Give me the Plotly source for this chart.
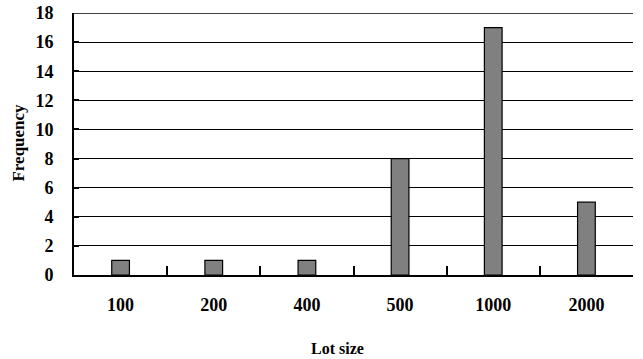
import plotly.graph_objects as go

categories = ["100", "200", "400", "500", "1000", "2000"]
frequency = [1, 1, 1, 8, 17, 5]
y_ticks = [0, 2, 4, 6, 8, 10, 12, 14, 16, 18]

font_family = "Liberation Serif"

fig = go.Figure()
fig.add_trace(go.Bar(
    x=categories, y=frequency,
    marker=dict(color="#808080", line=dict(color="black", width=1.2)),
    width=0.19,
))

fig.update_layout(
    width=643, height=359,
    margin=dict(l=74, r=10, t=13, b=84),
    paper_bgcolor="white", plot_bgcolor="white",
    showlegend=False,
    font=dict(family=font_family, size=18, color="black"),
    annotations=[
        dict(text="<b>Lot size</b>", xref="paper", yref="paper", x=0.472, y=-0.279,
             showarrow=False, xanchor="center", yanchor="middle",
             font=dict(family=font_family, size=16)),
        dict(text="<b>Frequency</b>", xref="paper", yref="paper", x=-0.100, y=0.506,
             showarrow=False, xanchor="center", yanchor="middle", textangle=-90,
             font=dict(family=font_family, size=17)),
    ],
    shapes=[
        # top gridline (plotly drops the gridline that sits on the plot edge)
        dict(type="line", xref="paper", yref="y", x0=0, x1=1,
             y0=y_ticks[-1], y1=y_ticks[-1], line=dict(color="black", width=1.3),
             layer="below"),
    ],
)
fig.update_xaxes(
    type="category", automargin=False,
    showline=True, linecolor="black", linewidth=2,
    ticks="inside", ticklen=9, tickwidth=1.5, tickcolor="black",
    tickson="boundaries",
    showgrid=False,
    ticklabelstandoff=12,
    tickfont=dict(family=font_family, size=18, color="black", weight="bold"),
    range=[-0.5, 5.5],
)
fig.update_yaxes(
    range=[0, 18], tickvals=y_ticks, automargin=False,
    showline=True, linecolor="black", linewidth=2,
    ticks="inside", ticklen=5, tickwidth=1.5, tickcolor="black",
    showgrid=True, gridcolor="black", gridwidth=1,
    zeroline=False,
    ticklabelstandoff=15, ticklabeloverflow="allow",
    tickfont=dict(family=font_family, size=18, color="black", weight="bold"),
)
# remove the page's default 8px body margin so the figure fills the window
fig.write_html("out.html", config={"displayModeBar": False},
               post_script="document.body.style.margin='0';")
